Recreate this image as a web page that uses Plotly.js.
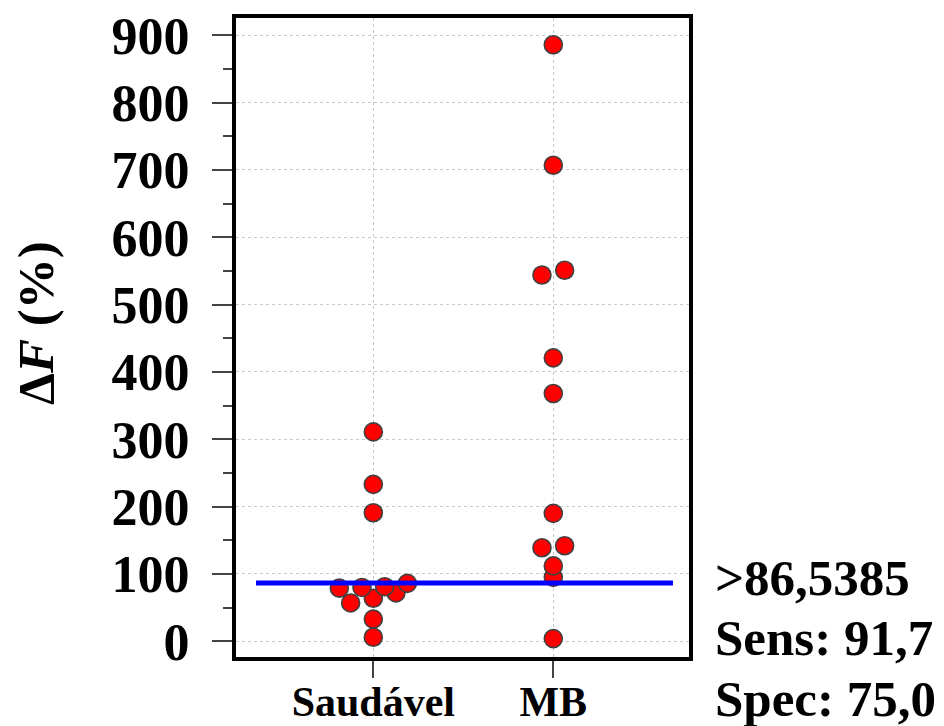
<!DOCTYPE html>
<html>
<head>
<meta charset="utf-8">
<script src="https://cdn.plot.ly/plotly-3.0.1.min.js"></script>
<style>html,body{margin:0;padding:0;background:#fff;}#chart{width:944px;height:726px;}</style>
</head>
<body>
<div id="chart"></div>
<script>
// ---- data ----
var categories = ['Saudável', 'MB'];
var saudavelValues = [6, 33, 57, 64, 72, 79, 80, 81, 86, 191, 233, 311];
var mbValues = [4, 95, 112, 139, 142, 190, 368, 421, 544, 551, 707, 886];
var cutoff = 86.5385;
var cutoffLabel = '>86,5385';
var yAxisTitle = 'Δ<i>F</i> (%)';

// ---- dot-plot layout helpers (style parameters) ----
var rowHeight = 28, rowOrigin = 21.5, swarmStep = 0.126;
function swarm(values, catIndex) {
  var rows = {};
  values.forEach(function (v, i) {
    var r = Math.floor((v - rowOrigin) / rowHeight);
    (rows[r] = rows[r] || []).push(i);
  });
  var xs = new Array(values.length);
  Object.keys(rows).forEach(function (k) {
    var idx = rows[k].slice().sort(function (a, b) { return values[a] - values[b]; });
    var n = idx.length;
    idx.forEach(function (j, p) { xs[j] = catIndex + (p - (n - 1) / 2) * swarmStep; });
  });
  return xs;
}
function pct(x) { return (Math.round(x * 1000) / 10).toFixed(1).replace('.', ','); }
var sens = mbValues.filter(function (v) { return v > cutoff; }).length / mbValues.length;
var spec = saudavelValues.filter(function (v) { return v <= cutoff; }).length / saudavelValues.length;

var font = {family: 'Liberation Serif, "Times New Roman", serif', color: '#000', weight: 'bold'};
function f(size) { return Object.assign({}, font, {size: size}); }

var marker = {color: '#ff0000', size: 18, line: {color: '#404040', width: 1.6}};
var traces = [
  {type: 'scatter', mode: 'markers', x: swarm(saudavelValues, 0), y: saudavelValues, marker: marker, hoverinfo: 'y', showlegend: false},
  {type: 'scatter', mode: 'markers', x: swarm(mbValues, 1), y: mbValues, marker: marker, hoverinfo: 'y', showlegend: false}
];

var layout = {
  width: 944, height: 726,
  margin: {l: 236, r: 255, t: 18, b: 69, pad: 0},
  paper_bgcolor: '#fff', plot_bgcolor: '#fff',
  showlegend: false,
  xaxis: {
    range: [-0.763, 1.754],
    tickmode: 'array', tickvals: [0, 1], ticktext: categories,
    showgrid: true, gridcolor: '#c8c8c8', griddash: 'dot', gridwidth: 1,
    zeroline: false,
    showline: true, mirror: true, linecolor: '#000', linewidth: 4,
    ticks: 'outside', ticklen: 17, tickwidth: 2, tickcolor: '#444',
    tickfont: f(42), ticklabelstandoff: -12,
    automargin: false
  },
  yaxis: {
    range: [-23.3, 925.7],
    tick0: 0, dtick: 100,
    showgrid: true, gridcolor: '#c8c8c8', griddash: 'dot', gridwidth: 1,
    zeroline: false,
    showline: true, mirror: true, linecolor: '#000', linewidth: 4,
    ticks: 'outside', ticklen: 20, tickwidth: 2, tickcolor: '#444',
    minor: {dtick: 50, ticks: 'outside', ticklen: 9, tickwidth: 2, tickcolor: '#444', showgrid: false},
    tickfont: f(52), ticklabelstandoff: 12,
    automargin: false
  },
  shapes: [
    {type: 'line', xref: 'x', yref: 'y', x0: -0.652, x1: 1.665, y0: cutoff, y1: cutoff,
     line: {color: '#0000ff', width: 5}, layer: 'above'}
  ],
  annotations: [
    {xref: 'paper', yref: 'paper', x: (36 - 236) / 453, y: (657 - 323) / 639, xanchor: 'center', yanchor: 'middle',
     text: yAxisTitle, textangle: -90, showarrow: false, font: f(51)},
    {xref: 'paper', yref: 'paper', x: 1.053, y: (657 - 578) / 639, xanchor: 'left', yanchor: 'middle',
     text: cutoffLabel, showarrow: false, font: f(51)},
    {xref: 'paper', yref: 'paper', x: 1.053, y: (657 - 638) / 639, xanchor: 'left', yanchor: 'middle',
     text: 'Sens: ' + pct(sens), showarrow: false, font: f(51)},
    {xref: 'paper', yref: 'paper', x: 1.053, y: (657 - 699) / 639, xanchor: 'left', yanchor: 'middle',
     text: 'Spec: ' + pct(spec), showarrow: false, font: f(51)}
  ]
};

Plotly.newPlot('chart', traces, layout, {displayModeBar: false, staticPlot: true});
</script>
</body>
</html>
